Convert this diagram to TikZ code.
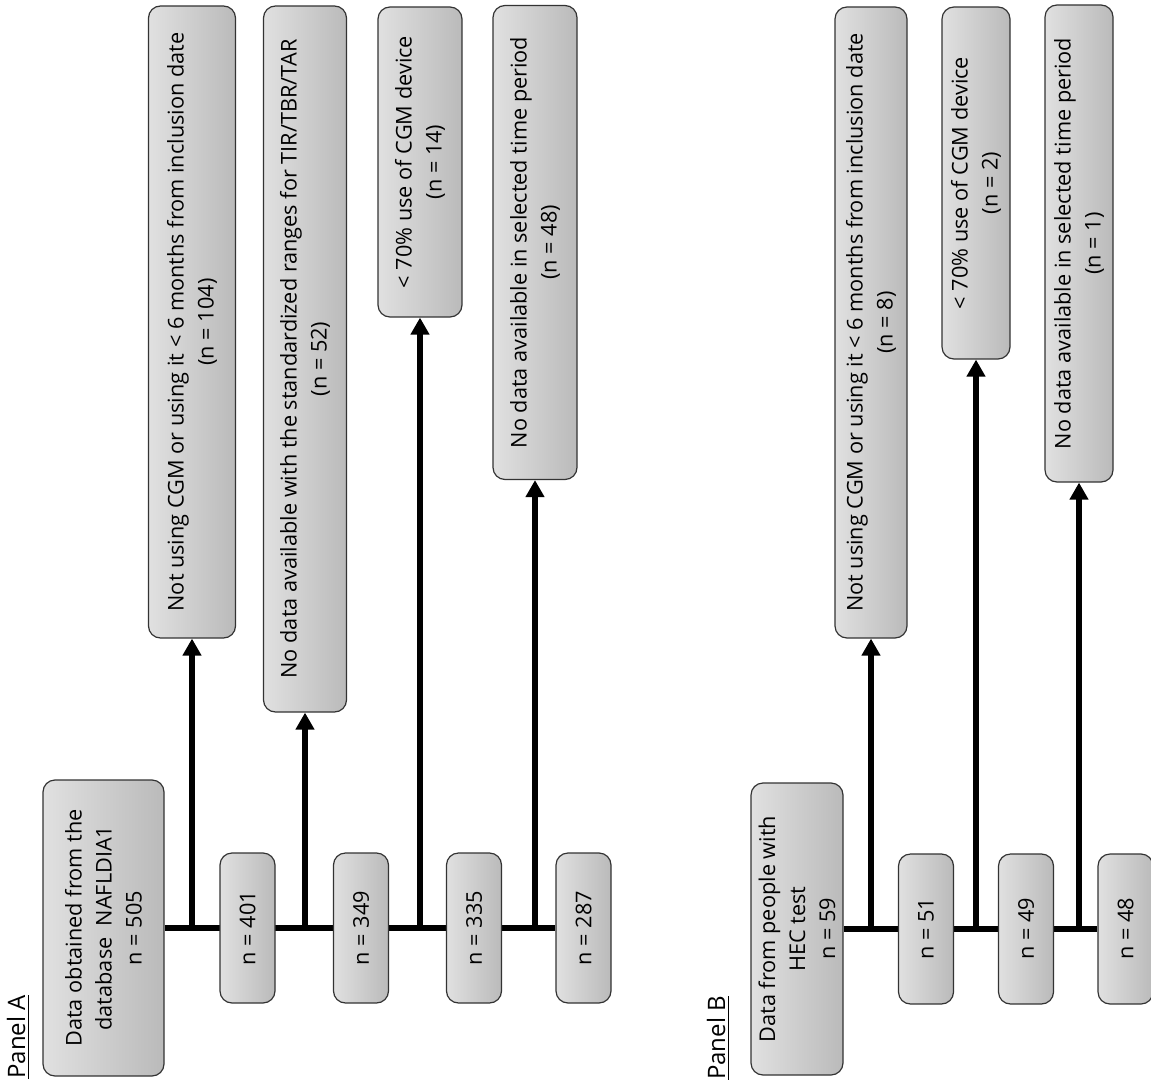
\documentclass[tikz,border=0pt]{standalone}
\usepackage{fontspec}
\setmainfont{Open Sans}
\usetikzlibrary{arrows.meta,backgrounds}

\begin{document}
\begin{tikzpicture}[x=0.5pt, y=-0.5pt,
  box/.style={draw=black!80, line width=0.6pt, rounded corners=6pt, rotate=90,
    left color=black!12, right color=black!27, align=center, inner sep=1pt,
    font=\fontsize{10.85}{15}\selectfont},
  nbox/.style={box, minimum width=75pt, minimum height=27.5pt},
  lbl/.style={rotate=90, inner sep=1pt, font=\fontsize{12}{15}\selectfont},
  trunk/.style={line width=3pt},
  branch/.style={line width=3pt, -{Triangle[width=9pt,length=8.5pt]}}]
\useasboundingbox (0,0) rectangle (1151,1086);
% Panel A
\node[lbl] (pa) at (18,1037){\underline{Panel A}};
\node[box, minimum width=148pt, minimum height=60.5pt] (sa0) at (103.5,928){Data obtained from the\\database\ \ NAFLDIA1\\n = 505};
\node[nbox] (na1) at (247.5,928){n = 401};
\node[nbox] (na2) at (361,928){n = 349};
\node[nbox] (na3) at (474,928){n = 335};
\node[nbox] (na4) at (583.5,928){n = 287};
\node[box, minimum width=316pt, minimum height=43.5pt] (xa1) at (192,322){Not using CGM or using it < 6 months from inclusion date\\(n = 104)};
\node[box, minimum width=353pt, minimum height=41.5pt] (xa2) at (305,359){No data available with the standardized ranges for TIR/TBR/TAR\\(n = 52)};
\node[box, minimum width=155pt, minimum height=42pt] (xa3) at (420,162){< 70\% use of CGM device\\(n = 14)};
\node[box, minimum width=237pt, minimum height=42pt] (xa4) at (535,242.5){No data available in selected time period\\(n = 48)};
\coordinate (ba1) at (192,928);
\coordinate (ba2) at (305,928);
\coordinate (ba3) at (420,928);
\coordinate (ba4) at (535,928);
% Panel B
\node[lbl] (pb) at (718,1038){\underline{Panel B}};
\node[box, minimum width=146pt, minimum height=46pt] (sb0) at (797,929){Data from people with\\HEC test\\n = 59};
\node[nbox] (nb1) at (926,929){n = 51};
\node[nbox] (nb2) at (1026,929){n = 49};
\node[nbox] (nb3) at (1125.5,929){n = 48};
\node[box, minimum width=315.5pt, minimum height=36pt] (xb1) at (871,322.5){Not using CGM or using it < 6 months from inclusion date\\(n = 8)};
\node[box, minimum width=176pt, minimum height=34pt] (xb2) at (976,183){< 70\% use of CGM device\\(n = 2)};
\node[box, minimum width=238.5pt, minimum height=34pt] (xb3) at (1079,243.5){No data available in selected time period\\(n = 1)};
\coordinate (bb1) at (871,929);
\coordinate (bb2) at (976,929);
\coordinate (bb3) at (1079,929);
\begin{scope}[on background layer]
\draw[trunk] (sa0) -- (na4);
\draw[trunk] (sb0) -- (nb3);
\end{scope}
\draw[branch] (ba1) -- (xa1);
\draw[branch] (ba2) -- (xa2);
\draw[branch] (ba3) -- (xa3);
\draw[branch] (ba4) -- (xa4);
\draw[branch] (bb1) -- (xb1);
\draw[branch] (bb2) -- (xb2);
\draw[branch] (bb3) -- (xb3);
\end{tikzpicture}
\end{document}
